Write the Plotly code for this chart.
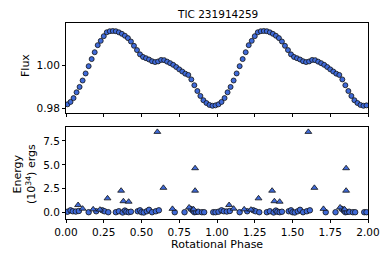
import plotly.graph_objects as go
import numpy as np

# ---- light curve (one rotation, phase-binned) ----
lc_phase = [0.01,0.03,0.05,0.07,0.09,0.11,0.13,0.15,0.17,0.19,0.21,0.23,0.25,0.27,0.29,0.31,0.33,0.35,0.37,0.39,
            0.41,0.43,0.45,0.47,0.49,0.51,0.53,0.55,0.57,0.59,0.61,0.63,0.65,0.67,0.69,0.71,0.73,0.75,0.77,0.79,
            0.81,0.83,0.85,0.87,0.89,0.91,0.93,0.95,0.97,0.99]
lc_flux = [0.9819,0.9830,0.9848,0.9875,0.9900,0.9930,0.9963,0.9997,1.0030,1.0062,1.0095,1.0115,1.0137,1.0155,1.0160,
           1.0161,1.0160,1.0155,1.0148,1.0139,1.0128,1.0112,1.0092,1.0072,1.0052,1.0040,1.0034,1.0028,1.0020,1.0016,
           1.0019,1.0026,1.0025,1.0018,1.0011,1.0003,0.9993,0.9982,0.9972,0.9962,0.9956,0.9935,0.9908,0.9881,0.9858,
           0.9838,0.9825,0.9816,0.9812,0.9814]

# ---- flares (one rotation) ----
circ_phase = [0.01,0.03,0.045,0.065,0.085,0.15,0.20,0.24,0.255,0.28,0.33,0.35,0.375,0.39,0.40,0.415,0.43,0.475,0.49,0.50,
              0.515,0.535,0.55,0.57,0.595,0.615,0.72,0.785,0.825,0.84,0.85,0.86,0.875,0.90,0.915,0.975,0.99]
circ_energy = [0.10,0.25,0.15,0.12,0.18,0.05,0.15,0.25,0.15,0.05,0.05,0.15,0.02,0.22,0.10,0.05,0.10,0.15,0.25,0.05,
               0.02,0.15,0.30,0.05,0.15,0.25,0.05,0.05,0.40,0.20,0.05,0.08,0.10,0.05,0.05,0.05,0.05]
tri_phase = [0.08,0.11,0.18,0.225,0.275,0.365,0.38,0.415,0.605,0.645,0.705,0.815,0.845,0.855,0.855]
tri_energy = [0.80,0.42,0.35,0.32,1.50,2.30,1.20,1.15,8.45,2.60,0.40,0.55,0.35,4.65,2.30]

xticks = [0.0,0.25,0.5,0.75,1.0,1.25,1.5,1.75,2.0]
xtick_text = ["0.00","0.25","0.50","0.75","1.00","1.25","1.50","1.75","2.00"]

def two_cycles(p):
    p = np.asarray(p)
    return np.concatenate([p, p + 1.0])

def twice(v):
    v = np.asarray(v)
    return np.concatenate([v, v])

fill = "#3f6ad8"
edge = "#111111"
font = "DejaVu Sans"

fig = go.Figure()
fig.add_trace(go.Scatter(x=two_cycles(lc_phase), y=twice(lc_flux), mode="markers",
                         marker=dict(symbol="circle", size=5, color=fill, line=dict(color=edge, width=0.8)),
                         xaxis="x", yaxis="y", showlegend=False))
fig.add_trace(go.Scatter(x=two_cycles(circ_phase), y=twice(circ_energy), mode="markers",
                         marker=dict(symbol="circle", size=5.5, color=fill, line=dict(color=edge, width=0.8)),
                         xaxis="x2", yaxis="y2", showlegend=False))
fig.add_trace(go.Scatter(x=two_cycles(tri_phase), y=twice(tri_energy), mode="markers",
                         marker=dict(symbol="triangle-up", size=6, color=fill, line=dict(color=edge, width=0.8)),
                         xaxis="x2", yaxis="y2", showlegend=False))

H = 260.0
PW = 390 - 66 - 22
axcommon = dict(showline=True, linecolor="black", linewidth=1, mirror=True, ticks="outside",
                ticklen=3, tickwidth=0.8, tickcolor="black", showgrid=False, zeroline=False,
                tickfont=dict(family=font, size=10.5, color="black"))

fig.update_layout(
    width=390, height=260,
    margin=dict(l=66, r=22, t=0, b=0),
    paper_bgcolor="white", plot_bgcolor="white",
    xaxis=dict(domain=[0, 1], range=[0, 2], tickvals=xticks, showticklabels=False, anchor="y", **axcommon),
    yaxis=dict(domain=[1 - 113.3 / H, 1 - 23.3 / H], range=[0.9777, 1.0197], tickvals=[0.98, 1.00],
               ticktext=["0.98", "1.00"], anchor="x", **axcommon),
    xaxis2=dict(domain=[0, 1], range=[0, 2], tickvals=xticks, ticktext=xtick_text, anchor="y2", **axcommon),
    yaxis2=dict(domain=[1 - 219 / H, 1 - 127.3 / H], range=[-0.66, 8.93], tickvals=[0, 2.5, 5.0, 7.5],
                ticktext=["0.0", "2.5", "5.0", "7.5"], anchor="x2", **axcommon),
)
fig.add_annotation(text="TIC 231914259", x=0.5, xref="paper", y=1 - 14 / H, yref="paper", showarrow=False,
                   font=dict(family=font, size=10.5, color="black"), xanchor="center", yanchor="middle")
fig.add_annotation(text="Flux", x=(25 - 66) / PW, xref="paper", y=1 - 66 / H, yref="paper", showarrow=False,
                   textangle=-90, font=dict(family=font, size=11, color="black"), xanchor="center", yanchor="middle")
fig.add_annotation(text="Rotational Phase", x=0.5, xref="paper", y=1 - 244 / H, yref="paper", showarrow=False,
                   font=dict(family=font, size=11, color="black"), xanchor="center", yanchor="middle")
fig.add_annotation(text="Energy<br>(10<sup>34</sup>) ergs", xref="paper", x=(24 - 66) / PW,
                   yref="paper", y=1 - 174 / H, showarrow=False, textangle=-90,
                   font=dict(family=font, size=11, color="black"), xanchor="center", yanchor="middle")

fig.write_html("out.html", config={"displayModeBar": False})

# remove the default page margin so the figure sits at the window's top-left corner
with open("out.html", "r", encoding="utf-8") as fh:
    html = fh.read()
html = html.replace("<head>", "<head><style>html,body{margin:0;padding:0;overflow:hidden;}</style>", 1)
with open("out.html", "w", encoding="utf-8") as fh:
    fh.write(html)
